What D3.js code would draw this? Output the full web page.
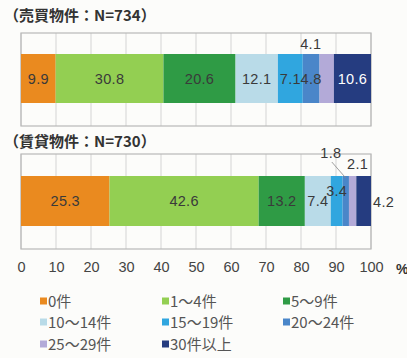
<!DOCTYPE html>
<html>
<head>
<meta charset="utf-8">
<script src="https://cdn.jsdelivr.net/npm/d3@7"></script>
<style>
  html, body { margin: 0; padding: 0; background: #fcfcfa; }
  svg { display: block; }
</style>
</head>
<body>
<svg id="chart" width="407" height="358"></svg>
<script>
// Share of properties by number of cases (%)
const categories = ["0件", "1～4件", "5～9件", "10～14件", "15～19件", "20～24件", "25～29件", "30件以上"];
const panelTitles = ["（売買物件：N=734）", "（賃貸物件：N=730）"];
const salesValues = [9.9, 30.8, 20.6, 12.1, 7.1, 4.8, 4.1, 10.6];
const rentalValues = [25.3, 42.6, 13.2, 7.4, 3.4, 1.8, 2.1, 4.2];
const tickLabels = [0, 10, 20, 30, 40, 50, 60, 70, 80, 90, 100];

const colors = ["#ea8a1f", "#93cf52", "#2f9b45", "#b9dbe8", "#30a6df", "#4a86c9", "#b3aad8", "#253c80"];
const numFont = "'Liberation Sans', Arial, 'Noto Sans CJK JP', sans-serif";
const cjkFont = "'Noto Sans CJK JP', 'Liberation Sans', sans-serif";

const svg = d3.select("#chart");
const x = d3.scaleLinear().domain([0, 100]).range([21, 371]);

// Panel layout: frame box and bar band
const panels = [
  { title: panelTitles[0], values: salesValues, titleY: 21, top: 33, bottom: 126, barTop: 54, barBottom: 103 },
  { title: panelTitles[1], values: rentalValues, titleY: 147, top: 154, bottom: 249, barTop: 176, barBottom: 226 }
];

// Label placement for segments too narrow to hold their value
const placement = {
  "0-6": { dx: -16, y: 44 },
  "1-4": { dy: -10 },
  "1-5": { dx: -15, y: 153, leader: true },
  "1-6": { dx: 5, y: 164 },
  "1-7": { dx: 20, y: 202 }
};

panels.forEach((p, pi) => {
  const g = svg.append("g");

  g.append("text")
    .attr("x", 4).attr("y", p.titleY)
    .attr("font-family", cjkFont).attr("font-size", 15).attr("font-weight", "bold")
    .attr("fill", "#333")
    .text(p.title);

  // gridlines
  g.selectAll("line.grid").data(x.ticks(10)).join("line")
    .attr("class", "grid")
    .attr("x1", d => x(d)).attr("x2", d => x(d))
    .attr("y1", p.top).attr("y2", p.bottom)
    .attr("stroke", "#d4d4d4").attr("stroke-width", 1);
  g.append("rect")
    .attr("x", x(0)).attr("y", p.top)
    .attr("width", x(100) - x(0)).attr("height", p.bottom - p.top)
    .attr("fill", "none").attr("stroke", "#b8b8b8").attr("stroke-width", 1.2);

  const stacked = [];
  let acc = 0;
  p.values.forEach((v, i) => { stacked.push({ i, v, x0: acc, x1: acc + v }); acc += v; });

  g.selectAll("rect.seg").data(stacked).join("rect")
    .attr("class", "seg")
    .attr("x", d => x(d.x0)).attr("y", p.barTop)
    .attr("width", d => x(d.x1) - x(d.x0)).attr("height", p.barBottom - p.barTop)
    .attr("fill", d => colors[d.i]);

  const midY = (p.barTop + p.barBottom) / 2;
  stacked.forEach(d => {
    const key = pi + "-" + d.i;
    const pl = placement[key] || {};
    const cx = (x(d.x0) + x(d.x1)) / 2 + (pl.dx || 0);
    const cy = (pl.y !== undefined ? pl.y : midY + (pl.dy || 0)) + 5;
    if (pl.leader) {
      g.append("line")
        .attr("x1", cx + 1).attr("y1", cy + 4)
        .attr("x2", (x(d.x0) + x(d.x1)) / 2).attr("y2", p.barTop + 2)
        .attr("stroke", "#888").attr("stroke-width", 0.8);
    }
    const inside = pl.y === undefined && !(pl.dx);
    g.append("text")
      .attr("x", cx).attr("y", cy)
      .attr("text-anchor", "middle")
      .attr("font-family", numFont).attr("font-size", 14.5)
      .attr("fill", (d.i === 7 && inside) ? "#ffffff" : "#3a3a3a")
      .attr("letter-spacing", "0.3")
      .text(d.v.toFixed(1));
  });
});

// percentage axis
const axis = d3.axisBottom(x).tickValues(tickLabels).tickSize(0).tickPadding(0).tickFormat(d3.format("d"));
const ax = svg.append("g").attr("transform", "translate(0,262)").call(axis);
ax.select(".domain").remove();
ax.selectAll("text")
  .attr("font-family", numFont).attr("font-size", 14.5).attr("fill", "#444");
svg.append("text")
  .attr("x", 396).attr("y", 274)
  .attr("font-family", numFont).attr("font-size", 14).attr("font-weight", "bold")
  .attr("fill", "#333").text("%");

// legend: three columns
const legendCols = [40, 162, 283];
const legendRows = [301, 322, 344];
const legend = svg.append("g");
categories.forEach((c, i) => {
  const lx = legendCols[i % 3], ly = legendRows[Math.floor(i / 3)];
  legend.append("rect")
    .attr("x", lx).attr("y", ly - 3.5).attr("width", 7).attr("height", 7)
    .attr("fill", colors[i]);
  legend.append("text")
    .attr("x", lx + 8).attr("y", ly + 5.5)
    .attr("font-family", cjkFont).attr("font-size", 15)
    .attr("fill", "#555")
    .text(c);
});
</script>
</body>
</html>
